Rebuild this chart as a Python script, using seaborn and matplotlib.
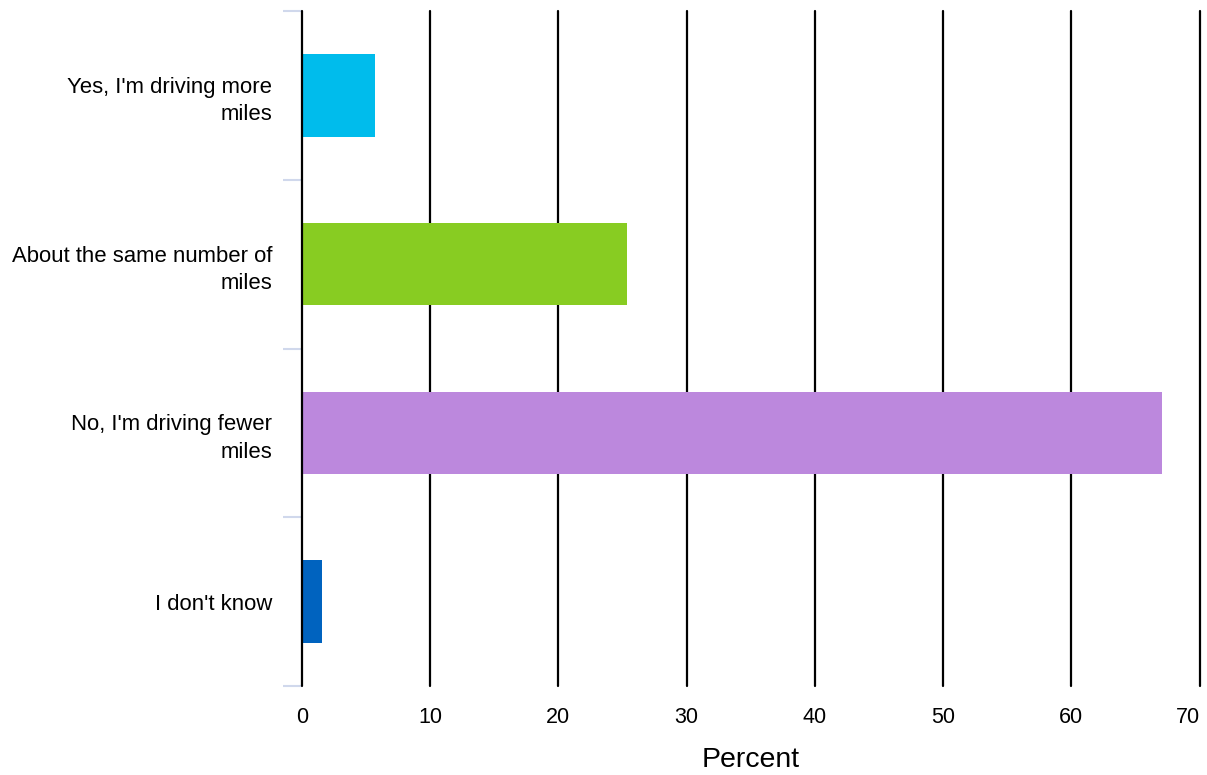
import matplotlib
matplotlib.use("Agg")
import matplotlib.pyplot as plt
import seaborn as sns
import pandas as pd

categories = ["Yes, I'm driving more\nmiles", "About the same number of\nmiles",
              "No, I'm driving fewer\nmiles", "I don't know"]
values = [5.7, 25.35, 67.1, 1.55]
colors = ["#00BCEC", "#88CC22", "#BC88DD", "#0063BF"]
xticks = [0, 10, 20, 30, 40, 50, 60, 70]

sns.set_theme(style="white")
plt.rcParams['font.family'] = ['Liberation Sans', 'DejaVu Sans']
plt.rcParams['text.color'] = 'black'
plt.rcParams['xtick.color'] = 'black'
plt.rcParams['ytick.color'] = 'black'
plt.rcParams['axes.labelcolor'] = 'black'

df = pd.DataFrame({"cat": categories, "val": values})

fig = plt.figure(figsize=(12.07, 7.75), dpi=100)
ax = fig.add_axes([0.2502, 0.1148, 0.7436, 0.871])

sns.barplot(data=df, y="cat", x="val", hue="cat", palette=colors, order=categories,
            hue_order=categories, width=0.49, legend=False, ax=ax, orient="h",
            saturation=1, zorder=2, linewidth=0)

ax.set_xlim(0, 70)
ax.set_ylim(3.5, -0.5)
ax.set_xticks(xticks)
ax.set_xticklabels([str(t) for t in xticks], fontsize=15.5)
ax.get_xticklabels()[-1].set_horizontalalignment("right")
for x in xticks:
    ax.axvline(x, color="black", lw=1.6, zorder=1 if x != 0 else 3, clip_on=False)

ax.set_yticks(range(len(categories)))
ax.set_yticklabels(categories, fontsize=15.9, ha="right", linespacing=1.4)
ax.set_yticks([-0.5, 0.5, 1.5, 2.5, 3.5], minor=True)
ax.tick_params(axis="y", which="major", length=0, pad=21.5)
ax.tick_params(axis="y", which="minor", length=14, width=1.5, color="#D0D8EC", left=True)
ax.tick_params(axis="x", length=0, pad=15)

for s in ax.spines.values():
    s.set_visible(False)

ax.set_xlabel("Percent", fontsize=20.5, labelpad=14)
ax.set_ylabel("")

fig.savefig("out.png", dpi=100)
